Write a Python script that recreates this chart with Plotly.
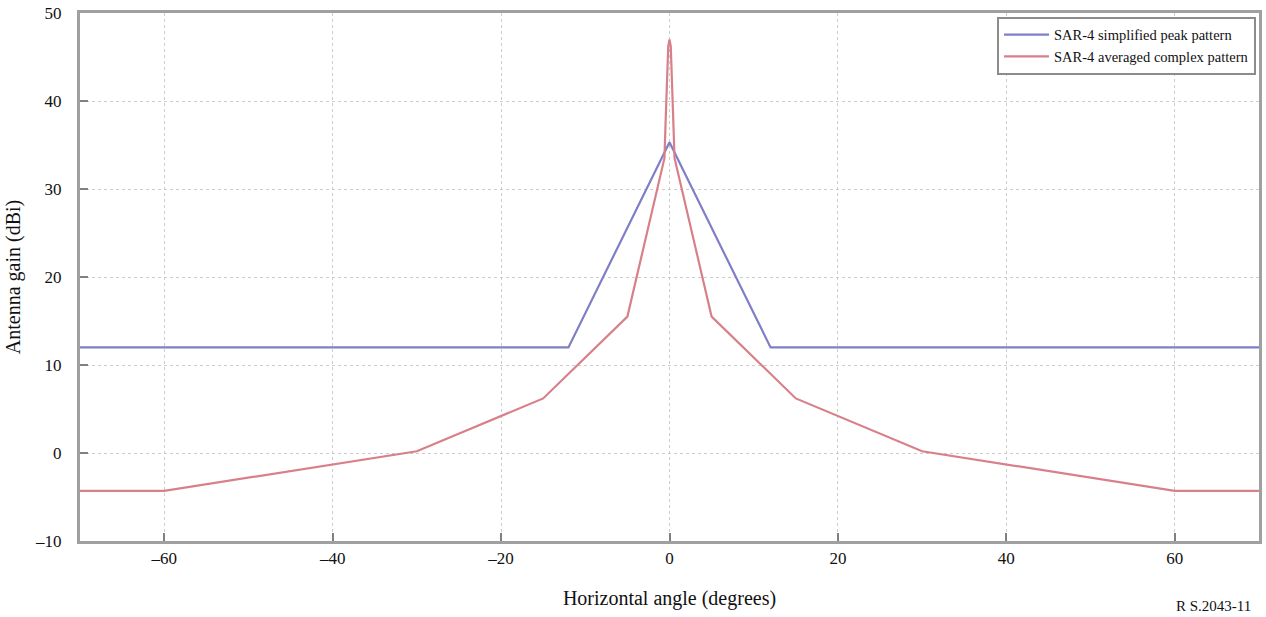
import plotly.graph_objects as go

# Data
simplified_angle = [-70, -60, -40, -20, -12, 0, 12, 20, 40, 60, 70]
simplified_gain = [12, 12, 12, 12, 12, 35.3, 12, 12, 12, 12, 12]

averaged_angle = [-70, -60, -30, -15, -5, -0.6, -0.45, -0.3, -0.15, 0, 0.15, 0.3, 0.45, 0.6, 5, 15, 30, 60, 70]
averaged_gain = [-4.3, -4.3, 0.2, 6.2, 15.5, 33.5, 38, 42, 46.2, 47, 46.2, 42, 38, 33.5, 15.5, 6.2, 0.2, -4.3, -4.3]

x_ticks = [-60, -40, -20, 0, 20, 40, 60]
x_tick_labels = ["–60", "–40", "–20", "0", "20", "40", "60"]
y_ticks = [-10, 0, 10, 20, 30, 40, 50]
y_tick_labels = ["–10", "0", "10", "20", "30", "40", "50"]

font_family = "Liberation Serif, Times New Roman, serif"

fig = go.Figure()
fig.add_trace(go.Scatter(x=simplified_angle, y=simplified_gain, mode="lines",
                         name="SAR-4 simplified peak pattern",
                         line=dict(color="#7f7fc6", width=2.2)))
fig.add_trace(go.Scatter(x=averaged_angle, y=averaged_gain, mode="lines",
                         name="SAR-4 averaged complex pattern",
                         line=dict(color="#d7808a", width=2.2)))

axis_common = dict(
    showline=True, linecolor="#a0a0a0", linewidth=3, mirror=True,
    showgrid=True, gridcolor="#cccccc", griddash="dot", gridwidth=1,
    zeroline=False, ticks="inside", ticklen=8, tickcolor="#808080", tickwidth=2,
    tickfont=dict(family=font_family, size=17, color="#111"),
    ticklabeloverflow="allow",
)

fig.update_xaxes(range=[-70, 70], tickvals=x_ticks, ticktext=x_tick_labels,
                 title=dict(text="Horizontal angle (degrees)",
                            font=dict(family=font_family, size=20, color="#111"), standoff=24),
                 **axis_common)
fig.update_yaxes(range=[-10, 50], tickvals=y_ticks, ticktext=y_tick_labels,
                 ticklabelstandoff=12,
                 title=dict(text="Antenna gain (dBi)",
                            font=dict(family=font_family, size=20, color="#111"), standoff=10),
                 **axis_common)

fig.update_layout(
    width=1266, height=617,
    margin=dict(l=80, r=4, t=10, b=76),
    plot_bgcolor="white", paper_bgcolor="white",
    font=dict(family=font_family, color="#111"),
    showlegend=True,
    legend=dict(x=0.9975, y=0.993, xanchor="right", yanchor="top",
                bgcolor="white", bordercolor="#8c8c8c", borderwidth=2,
                font=dict(family=font_family, size=14.5, color="#111"),
                tracegroupgap=0, itemwidth=45),
    annotations=[dict(text="R S.2043-11", x=1.0, y=0, xref="paper", yref="paper",
                      xanchor="right", yanchor="top", yshift=-55, xshift=-6,
                      showarrow=False, font=dict(family=font_family, size=15, color="#111"))],
)

fig.write_html("out.html", config={"displayModeBar": False},
               post_script="document.body.style.margin='0';document.body.style.overflow='hidden';")
